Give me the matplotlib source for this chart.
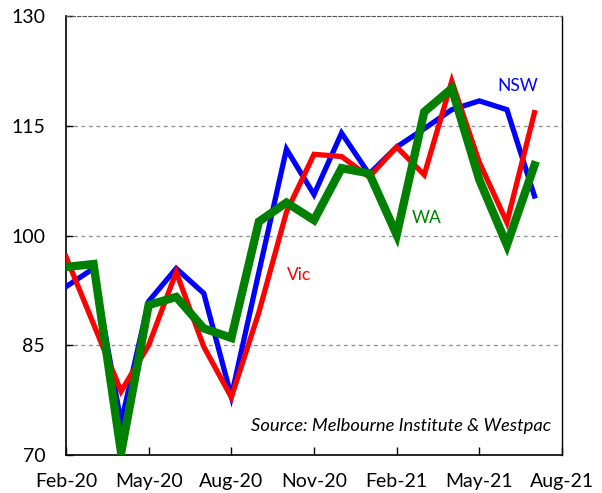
import matplotlib.pyplot as plt
import numpy as np

plt.rcParams['font.family'] = ['Lato', 'DejaVu Sans']

# Datos mensuales Feb-20 .. Jul-21
months = ['Feb-20', 'Mar-20', 'Apr-20', 'May-20', 'Jun-20', 'Jul-20', 'Aug-20', 'Sep-20',
          'Oct-20', 'Nov-20', 'Dec-20', 'Jan-21', 'Feb-21', 'Mar-21', 'Apr-21', 'May-21',
          'Jun-21', 'Jul-21']
nsw = [93.0, 95.5, 74.4, 91.0, 95.5, 92.1, 78.0, 95.0, 111.8, 105.6, 114.0, 108.4,
       112.1, 114.6, 117.2, 118.4, 117.2, 105.4]
vic = [97.1, 87.9, 78.7, 85.0, 95.0, 84.8, 77.9, 89.5, 103.2, 111.1, 110.8, 108.0,
       112.1, 108.3, 121.1, 110.0, 101.8, 116.8]
wa = [95.7, 96.1, 70.3, 90.5, 91.6, 87.3, 86.0, 101.9, 104.5, 102.1, 109.2, 108.5,
      100.1, 116.9, 120.1, 107.6, 98.7, 109.6]

tick_labels = ['Feb-20', 'May-20', 'Aug-20', 'Nov-20', 'Feb-21', 'May-21', 'Aug-21']
y_ticks = [70, 85, 100, 115, 130]

x = np.arange(len(months))

fig = plt.figure(figsize=(6.02, 4.93), dpi=100)
ax = fig.add_axes([0.1096, 0.0771, 0.824, 0.8904])

ax.plot(x, nsw, color='#0000FF', linewidth=3.8, solid_joinstyle='miter', zorder=3)
ax.plot(x, vic, color='#FF0000', linewidth=3.8, solid_joinstyle='miter', zorder=4)
ax.plot(x, wa, color='#008000', linewidth=6, solid_joinstyle='miter', zorder=5)

ax.set_xlim(0, 18)
ax.set_ylim(70, 130)
ax.set_xticks(np.arange(0, 19, 3))
ax.set_xticklabels(tick_labels)
ax.set_yticks(y_ticks)

ax.tick_params(axis='x', direction='in', length=6, width=1, labelsize=14, pad=13)
ax.tick_params(axis='y', direction='in', length=5, width=1, labelsize=14, pad=15)

for yv in [85, 100, 115]:
    ax.axhline(yv, color='#8c8c8c', linestyle='--', linewidth=0.9, dashes=(3, 3), zorder=1)

ax.spines['top'].set_linestyle((0, (3, 2)))
ax.spines['top'].set_color('#555555')
ax.spines['right'].set_linewidth(1)
ax.spines['left'].set_linewidth(1.2)
ax.spines['bottom'].set_linewidth(1.2)

ax.text(16.4, 120.4, 'NSW', color='#0000FF', fontsize=12.5, ha='center', va='center')
ax.text(13.1, 102.4, 'WA', color='#008000', fontsize=12.5, ha='center', va='center')
ax.text(8.45, 94.6, 'Vic', color='#FF0000', fontsize=12.5, ha='center', va='center')
ax.text(17.6, 74, 'Source: Melbourne Institute & Westpac', fontsize=13.2, style='italic',
        ha='right', va='center')

plt.savefig('out.png', dpi=100)
